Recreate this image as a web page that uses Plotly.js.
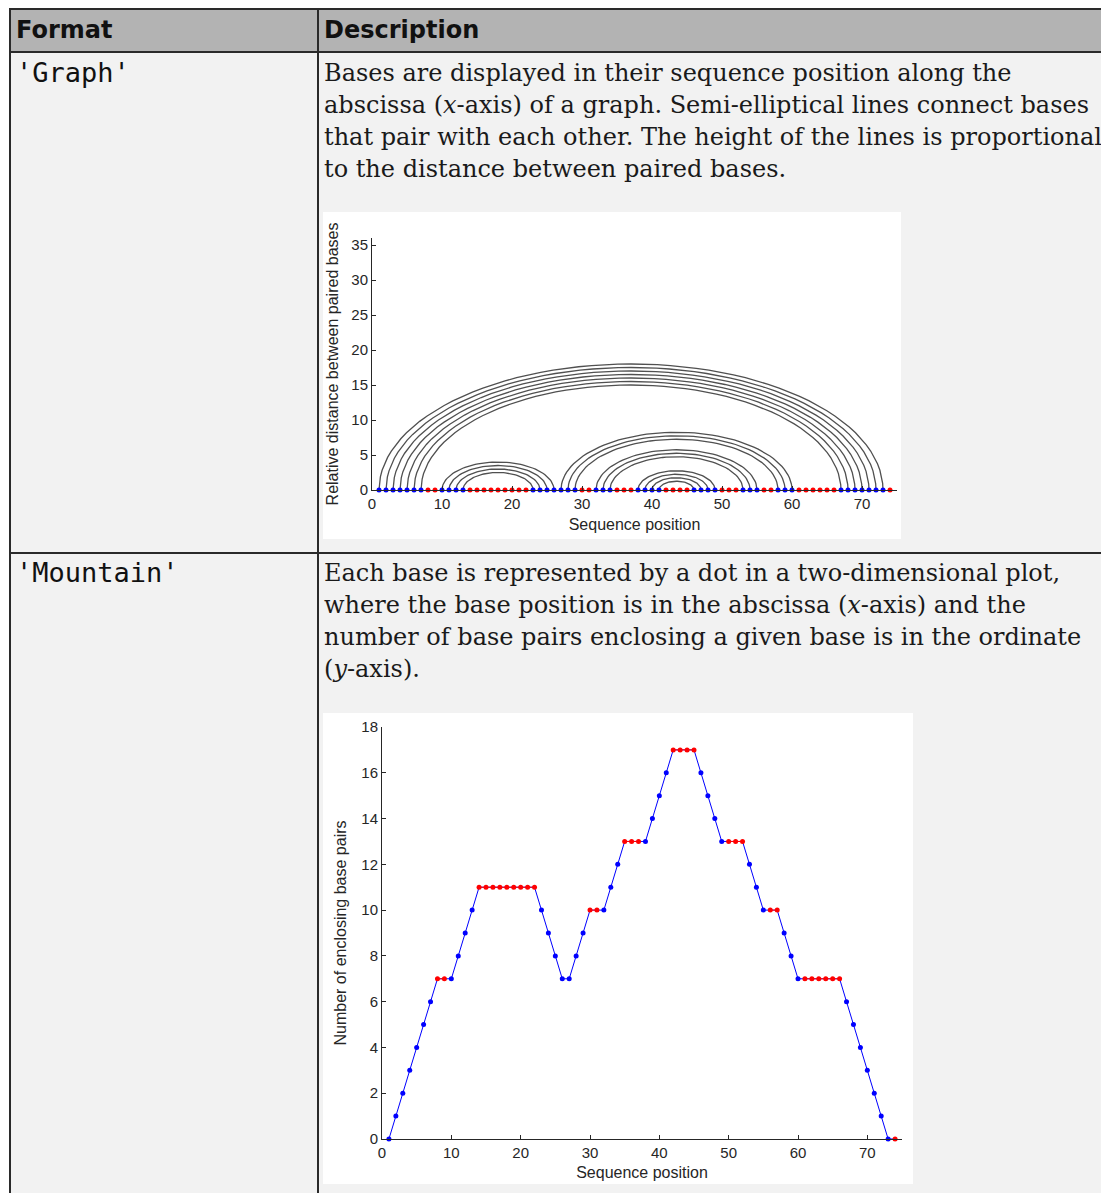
<!DOCTYPE html>
<html>
<head>
<meta charset="utf-8">
<script src="https://cdn.plot.ly/plotly-3.0.1.min.js"></script>
<style>
  html, body { margin:0; padding:0; background:#ffffff; }
  body { width:1101px; height:1193px; overflow:hidden; position:relative; }
  .abs { position:absolute; }
  .line { position:absolute; background:#2a2a2a; }
  .hdr { position:absolute; font-family:"DejaVu Sans", sans-serif; font-weight:bold; font-size:24px; color:#111; white-space:nowrap; line-height:43px; }
  .code { position:absolute; font-family:"DejaVu Sans Mono", monospace; font-size:27px; color:#111; white-space:nowrap; line-height:32px; }
  .desc { position:absolute; font-family:"DejaVu Serif", serif; font-size:24px; color:#1a1a1a; white-space:nowrap; line-height:32px; }
  .plot { position:absolute; background:#ffffff; }
</style>
</head>
<body>
<!-- backgrounds -->
<div class="abs" style="left:11px;top:10px;width:1090px;height:41px;background:#b3b3b3"></div>
<div class="abs" style="left:11px;top:53px;width:1090px;height:1140px;background:#f2f2f2"></div>
<!-- borders -->
<div class="line" style="left:9px;top:8px;width:1092px;height:2px"></div>
<div class="line" style="left:9px;top:51px;width:1092px;height:2px"></div>
<div class="line" style="left:9px;top:552px;width:1092px;height:2px"></div>
<div class="line" style="left:9px;top:8px;width:2px;height:1185px"></div>
<div class="line" style="left:317px;top:8px;width:2px;height:1185px"></div>

<div class="hdr" style="left:16px;top:9px">Format</div>
<div class="hdr" style="left:324px;top:9px">Description</div>

<div class="code" style="left:16px;top:57px">'Graph'</div>
<div class="desc" style="left:324px;top:57px">Bases are displayed in their sequence position along the<br>abscissa (<i>x</i>-axis) of a graph. Semi-elliptical lines connect bases<br>that pair with each other. The height of the lines is proportional<br>to the distance between paired bases.</div>

<div class="code" style="left:16px;top:557px">'Mountain'</div>
<div class="desc" style="left:324px;top:557px">Each base is represented by a dot in a two-dimensional plot,<br>where the base position is in the abscissa (<i>x</i>-axis) and the<br>number of base pairs enclosing a given base is in the ordinate<br>(<i>y</i>-axis).</div>

<div id="graph" class="plot" style="left:323px;top:212px;width:578px;height:327px"></div>
<div id="mountain" class="plot" style="left:323px;top:713px;width:590px;height:471px"></div>

<script>
// ---------------- data ----------------
const seqLength = 74;
// base pairs: opening position -> closing position
const pairOpen  = [1, 2, 3, 4, 5, 6, 7, 10, 11, 12, 13, 27, 28, 29, 32, 33, 34, 38, 39, 40, 41];
const pairClose = [73, 72, 71, 70, 69, 68, 67, 26, 25, 24, 23, 60, 59, 58, 55, 54, 53, 49, 48, 47, 46];
// number of enclosing base pairs per position (mountain plot)
const mountainValues = [
  0, 1, 2, 3, 4, 5, 6, 7, 7, 7,
  8, 9, 10, 11, 11, 11, 11, 11, 11, 11,
  11, 11, 10, 9, 8, 7, 7, 8, 9, 10,
  10, 10, 11, 12, 13, 13, 13, 13, 14, 15,
  16, 17, 17, 17, 17, 16, 15, 14, 13, 13,
  13, 13, 12, 11, 10, 10, 10, 9, 8, 7,
  7, 7, 7, 7, 7, 7, 6, 5, 4, 3,
  2, 1, 0, 0
];
const graphTicks = [0, 10, 20, 30, 40, 50, 60, 70];
const graphYTicks = [0, 5, 10, 15, 20, 25, 30, 35];
const mountainYTicks = [0, 2, 4, 6, 8, 10, 12, 14, 16, 18];

// ---------------- derived ----------------
const positions = [];
for (let i = 1; i <= seqLength; i++) positions.push(i);
const pairedSet = new Set(pairOpen.concat(pairClose));
const isPaired = positions.map(p => pairedSet.has(p));

// semi-elliptical arcs: height proportional to distance (distance / 4)
const arcX = [], arcY = [];
const N = 60;
pairOpen.forEach((a, k) => {
  const b = pairClose[k];
  const c = (a + b) / 2, r = (b - a) / 2, h = (b - a) / 4;
  for (let s = 0; s <= N; s++) {
    const t = Math.PI * s / N;
    arcX.push(c - r * Math.cos(t));
    arcY.push(h * Math.sin(t));
  }
  arcX.push(null); arcY.push(null);
});

const txtColor = '#262626';
const fontFam = '"Liberation Sans", Arial, sans-serif';
const BLUE = '#0000ff', RED = '#ff0000';

function axisBase(range, ticks) {
  return {
    range: range, tickmode: 'array', tickvals: ticks, ticktext: ticks.map(String),
    ticks: 'inside', ticklen: 4, tickwidth: 1, tickcolor: txtColor,
    showline: true, linecolor: txtColor, linewidth: 1,
    showgrid: false, zeroline: false, fixedrange: true,
    tickfont: { family: fontFam, size: 15, color: txtColor },
    automargin: false
  };
}

// ---------------- Graph plot ----------------
const gx = axisBase([0, 75], graphTicks);
gx.title = { text: 'Sequence position', font: { family: fontFam, size: 16, color: txtColor }, standoff: 7 };
const gy = axisBase([0, 36], graphYTicks);
gy.title = { text: 'Relative distance between paired bases', font: { family: fontFam, size: 16, color: txtColor }, standoff: 8 };

Plotly.newPlot('graph', [
  { x: arcX, y: arcY, mode: 'lines', line: { color: '#505050', width: 1.3 }, hoverinfo: 'skip', showlegend: false, cliponaxis: false },
  { x: positions.filter((p, i) => isPaired[i]), y: positions.filter((p, i) => isPaired[i]).map(() => 0),
    mode: 'markers', marker: { color: BLUE, size: 5 }, showlegend: false, cliponaxis: false },
  { x: positions.filter((p, i) => !isPaired[i]), y: positions.filter((p, i) => !isPaired[i]).map(() => 0),
    mode: 'markers', marker: { color: RED, size: 5 }, showlegend: false, cliponaxis: false }
], {
  width: 578, height: 327,
  margin: { l: 49, r: 4, t: 26, b: 49 },
  paper_bgcolor: '#ffffff', plot_bgcolor: '#ffffff',
  xaxis: gx, yaxis: gy, showlegend: false
}, { displayModeBar: false, staticPlot: true });

// ---------------- Mountain plot ----------------
const mx = axisBase([0, 75], graphTicks);
mx.title = { text: 'Sequence position', font: { family: fontFam, size: 16, color: txtColor }, standoff: 6 };
const my = axisBase([0, 18], mountainYTicks);
my.title = { text: 'Number of enclosing base pairs', font: { family: fontFam, size: 16, color: txtColor }, standoff: 10 };

const redX = positions.map((p, i) => isPaired[i] ? null : p);
const redY = mountainValues.map((v, i) => isPaired[i] ? null : v);
const blueX = positions.filter((p, i) => isPaired[i]);
const blueY = mountainValues.filter((v, i) => isPaired[i]);

Plotly.newPlot('mountain', [
  { x: positions, y: mountainValues, mode: 'lines', line: { color: BLUE, width: 1 }, showlegend: false, cliponaxis: false },
  { x: blueX, y: blueY, mode: 'markers', marker: { color: BLUE, size: 5 }, showlegend: false, cliponaxis: false },
  { x: redX, y: redY, mode: 'lines+markers', connectgaps: false, line: { color: RED, width: 1 }, marker: { color: RED, size: 5 }, showlegend: false, cliponaxis: false }
], {
  width: 590, height: 471,
  margin: { l: 59, r: 11, t: 14, b: 45 },
  paper_bgcolor: '#ffffff', plot_bgcolor: '#ffffff',
  xaxis: mx, yaxis: my, showlegend: false
}, { displayModeBar: false, staticPlot: true });
</script>
</body>
</html>
